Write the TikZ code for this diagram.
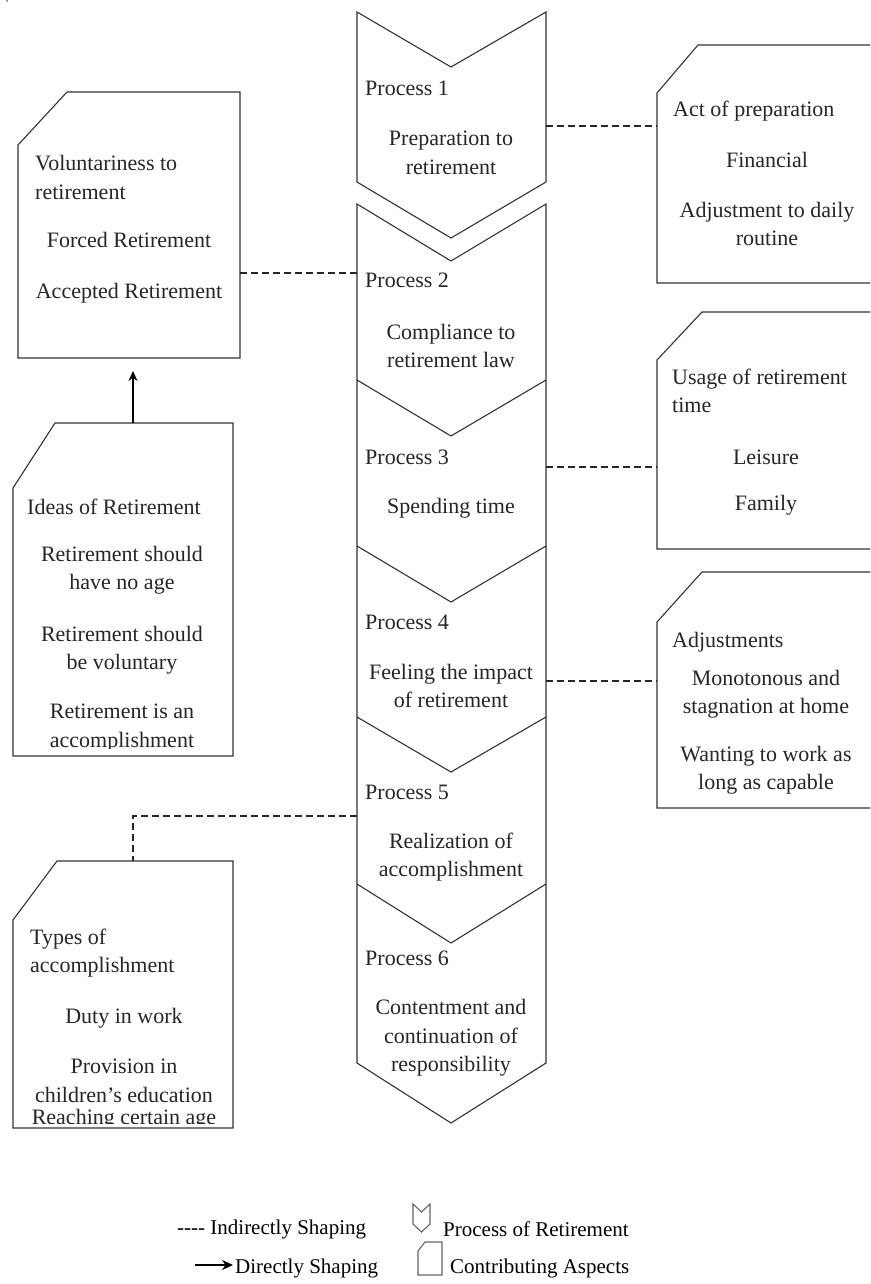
\documentclass[tikz,border=0pt]{standalone}
\usepackage{fontspec}
\setmainfont{Liberation Serif}
\usetikzlibrary{arrows.meta}
\tikzset{
  shp/.style={draw=black!80, line width=1.1pt, line join=miter},
  ind/.style={draw=black!85, line width=1.1pt, dash pattern=on 7pt off 4pt},
  dir/.style={draw=black, line width=1.3pt, -{Stealth[length=10pt,width=9pt]}},
  tl/.style={inner sep=0pt, anchor=west, align=left, font=\fontsize{22}{28.5}\selectfont, text=black!85},
  tc/.style={inner sep=0pt, align=center, font=\fontsize{22}{28.5}\selectfont, text=black!85},
  lg/.style={inner sep=0pt, anchor=west, font=\fontsize{21}{25}\selectfont, text=black},
  icon/.style={draw=black!60, line width=1.1pt},
}
\begin{document}
\begin{tikzpicture}[x=1pt,y=-1pt]
\clip (0,0) rectangle (870,1284);
\useasboundingbox (0,0) rectangle (870,1284);
\fill[white] (0,0) rectangle (870,1284);

% stray mark
\node[inner sep=0pt, font=\fontsize{9}{9}\selectfont] (mark) at (7,4) {'};

% ---------- process chevrons ----------
\draw[shp] (357,12) -- (451,67) -- (546,12) -- (546,182) -- (451,238) -- (357,182) -- cycle;
\draw[shp] (357,204) -- (451,261) -- (546,204) -- (546,380) -- (451,436) -- (357,380) -- cycle;
\draw[shp] (357,380) -- (357,546) -- (451,602) -- (546,546) -- (546,380);
\draw[shp] (357,546) -- (357,717) -- (451,772) -- (546,717) -- (546,546);
\draw[shp] (357,717) -- (357,884) -- (451,943) -- (546,884) -- (546,717);
\draw[shp] (357,884) -- (357,1063) -- (451,1123) -- (546,1063) -- (546,884);

\node[tl] (p1) at (365,88) {Process 1};
\node[tc] (p1t) at (451,153) {Preparation to\\retirement};
\node[tl] (p2) at (365,280) {Process 2};
\node[tc] (p2t) at (451,346) {Compliance to\\retirement law};
\node[tl] (p3) at (365,457) {Process 3};
\node[tc] (p3t) at (451,508) {Spending time};
\node[tl] (p4) at (365,622) {Process 4};
\node[tc] (p4t) at (451,686) {Feeling the impact\\of retirement};
\node[tl] (p5) at (365,792) {Process 5};
\node[tc] (p5t) at (451,857) {Realization of\\accomplishment};
\node[tl] (p6) at (365,958) {Process 6};
\node[tc] (p6t) at (451,1038) {Contentment and\\continuation of\\responsibility};

\coordinate (p1E) at (546,126);
\coordinate (p2W) at (357,273);
\coordinate (p3E) at (546,467);
\coordinate (p4E) at (546,681);
\coordinate (p5W) at (357,816);

% ---------- left aspect boxes ----------
\draw[shp] (18,145) -- (67,92) -- (240,92) -- (240,358) -- (18,358) -- cycle;
\node[tl] (a1) at (35,177.5) {Voluntariness to\\retirement};
\node[tc] (a2) at (129,240) {Forced Retirement};
\node[tc] (a3) at (129,293) {Accepted Retirement};
\coordinate (aE) at (240,273);
\coordinate (aS) at (133,371);

\draw[shp] (13,488) -- (55,423) -- (233,423) -- (233,756) -- (13,756) -- cycle;
\node[tl] (b1) at (27,507) {Ideas of Retirement};
\node[tc] (b2) at (122,570) {Retirement should\\have no age};
\node[tc] (b3) at (122,650) {Retirement should\\be voluntary};
\begin{scope}
\clip (14,690) rectangle (232,748);
\node[tc] (b4) at (122,728) {Retirement is an\\accomplishment};
\end{scope}
\coordinate (bN) at (133,423);

\draw[shp] (13,920) -- (57,861) -- (233,861) -- (233,1128) -- (13,1128) -- cycle;
\node[tl] (c1) at (30,953) {Types of\\accomplishment};
\node[tc] (c2) at (124,1018) {Duty in work};
\node[tc] (c3) at (124,1081) {Provision in\\children’s education};
\begin{scope}
\clip (14,1104) rectangle (232,1123);
\node[tc] (c4) at (124,1119) {Reaching certain age};
\end{scope}
\coordinate (cN) at (133,861);
\coordinate (cBend) at (133,816);

% ---------- right aspect boxes ----------
\draw[shp] (900,283) -- (657,283) -- (657,93) -- (698,45) -- (900,45);
\node[tl] (d1) at (673,111) {Act of preparation};
\node[tc] (d2) at (767,160) {Financial};
\node[tc] (d3) at (767,224) {Adjustment to daily\\routine};
\coordinate (dW) at (657,126);

\draw[shp] (900,549) -- (657,549) -- (657,360) -- (702,312) -- (900,312);
\node[tl] (e1) at (672,391) {Usage of retirement\\time};
\node[tc] (e2) at (766,457) {Leisure};
\node[tc] (e3) at (766,505) {Family};
\coordinate (eW) at (657,467);

\draw[shp] (900,808) -- (657,808) -- (657,622) -- (702,572) -- (900,572);
\node[tl] (f1) at (672,642) {Adjustments};
\node[tc] (f2) at (766,694) {Monotonous and\\stagnation at home};
\node[tc] (f3) at (766,770) {Wanting to work as\\long as capable};
\coordinate (fW) at (657,681);

% ---------- connectors ----------
\draw[ind] (aE) -- (p2W);
\draw[ind] (p1E) -- (dW);
\draw[ind] (p3E) -- (eW);
\draw[ind] (p4E) -- (fW);
\draw[ind] (p5W) -- (cBend) -- (cN);
\draw[dir] (bN) -- (aS);

% ---------- legend ----------
\node[lg] (l1) at (177,1229) {-{}-{}-{}- Indirectly Shaping};
\draw[icon] (413,1204) -- (421.5,1212) -- (430,1204) -- (430,1224) -- (421.5,1232) -- (413,1224) -- cycle;
\node[lg] (l2) at (443,1229) {Process of Retirement};
\coordinate (la) at (195,1265);
\coordinate (lb) at (233,1265);
\draw[draw=black, line width=1.5pt, -{Stealth[length=11pt,width=10pt]}] (la) -- (lb);
\node[lg] (l3) at (235,1268) {Directly Shaping};
\draw[icon] (418,1251) -- (425,1242) -- (442,1242) -- (442,1275) -- (418,1275) -- cycle;
\node[lg] (l4) at (450,1268) {Contributing Aspects};
\end{tikzpicture}
\end{document}
